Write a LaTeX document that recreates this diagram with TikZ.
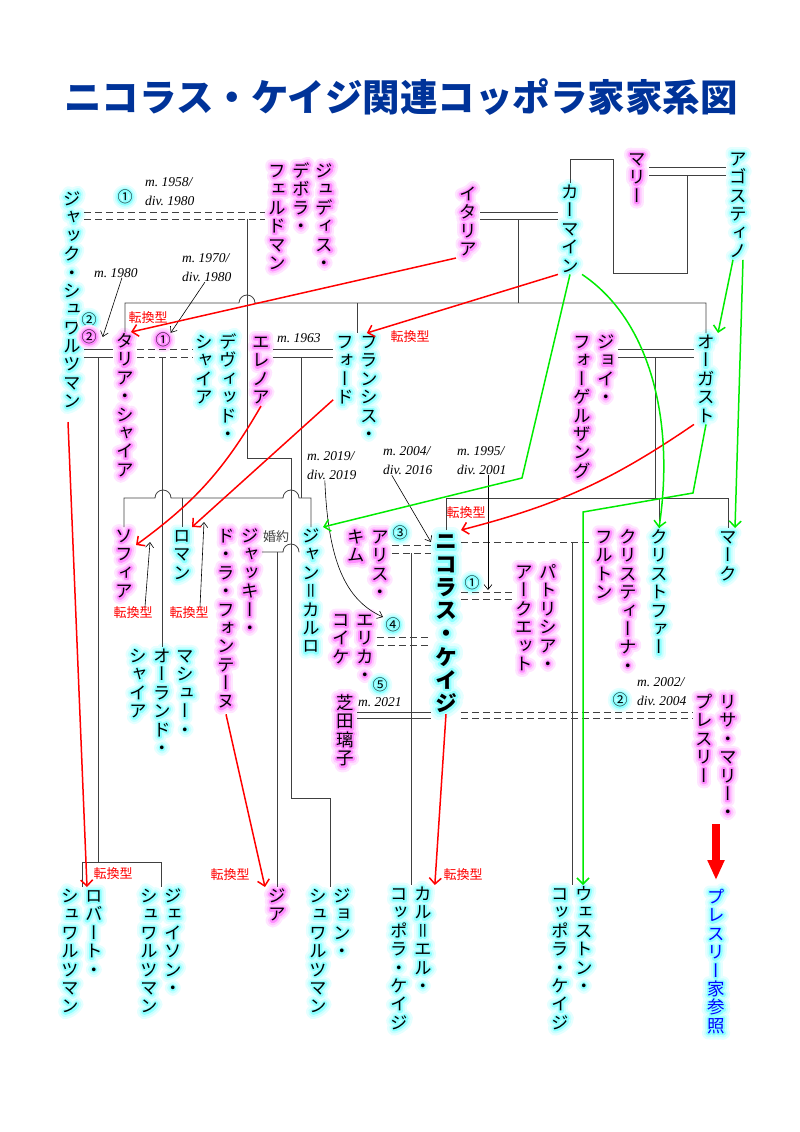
\documentclass[tikz,border=0pt]{standalone}
\usepackage{fontspec}
\usetikzlibrary{arrows.meta,calc}
\setmainfont{Liberation Serif}
\newfontfamily\jp[RawFeature=+vert]{Noto Sans CJK JP}
\newfontfamily\glowin[RawFeature=+vert,FakeBold=22]{Noto Sans CJK JP}
\newfontfamily\glowmid[RawFeature=+vert,FakeBold=45]{Noto Sans CJK JP}
\newfontfamily\glowout[RawFeature=+vert,FakeBold=70]{Noto Sans CJK JP}
\newfontfamily\jph{Noto Sans CJK JP}

\definecolor{maleglow}{RGB}{0,255,255}
\definecolor{femaleglow}{RGB}{255,0,255}
\definecolor{titleblue}{RGB}{0,51,153}
\definecolor{kingray}{RGB}{64,64,64}
\definecolor{namegreen}{RGB}{0,235,0}

% one column of vertical text, one character per line
\def\tloop#1{\ifx\relax#1\else\hbox to 1.35em{\hss\vrule height .88em depth .12em width 0pt#1\hss}\expandafter\tloop\fi}
\newcommand\tcol[1]{\vtop{\baselineskip=1.05em\lineskiplimit=-50pt\tloop#1\relax}}
% soft halo behind a name
\newcommand\glow[2]{\rlap{\color{#1!10}\glowout#2}\rlap{\color{#1!22}\glowmid#2}\rlap{\color{#1!45}\glowin#2}#2}

\tikzset{
  man/.style={inner sep=0pt, anchor=north, line join=round, font=\jp\fontsize{17.5}{18}\selectfont},
  woman/.style={man},
  circled/.style={inner sep=0pt, line join=round, font=\jp\fontsize{15}{15}\selectfont},
  year/.style={inner sep=0pt, anchor=west, align=left, font=\itshape\fontsize{13.5}{19}\selectfont},
  convlbl/.style={inner sep=0pt, text=red, font=\jph\fontsize{13}{13}\selectfont},
  kin/.style={draw=kingray, line width=0.8pt},
  divorced/.style={kin, dash pattern=on 7pt off 4pt},
  conv/.style={draw=red, line width=1.5pt, -{Straight Barb[length=6pt,width=12pt]}},
  namesake/.style={draw=namegreen, line width=1.5pt, -{Straight Barb[length=6pt,width=12pt]}},
  note/.style={draw=black, line width=0.6pt, -{Straight Barb[length=5pt,width=8pt]}},
}

\begin{document}
\begin{tikzpicture}[x=1pt,y=-1pt]
\useasboundingbox (0,0) rectangle (800,1132);

\node[font=\jph\bfseries\fontsize{37.5}{38}\selectfont, text=titleblue] (title) at (401,97) {ニコラス・ケイジ関連コッポラ家家系図};

% first generation
\node[man] (agostino) at (738,150) {\glow{maleglow}{\tcol{アゴスティノ}}};
\node[woman] (marie) at (637,150) {\glow{femaleglow}{\tcol{マリー}}};
\node[man] (carmine) at (570,183) {\glow{maleglow}{\tcol{カーマイン}}};
\node[woman] (italia) at (468,185) {\glow{femaleglow}{\tcol{イタリア}}};
\node[woman] (judith) at (301,162) {\glow{femaleglow}{\tcol{フェルドマン}\tcol{デボラ・}\tcol{ジュディス・}}};
\node[man] (jack) at (72,190) {\glow{maleglow}{\tcol{ジャック・シュワルツマン}}};

% second generation
\node[woman] (talia) at (125,332) {\glow{femaleglow}{\tcol{タリア・シャイア}}};
\node[man] (david) at (216,333) {\glow{maleglow}{\tcol{シャイア}\tcol{デヴィッド・}}};
\node[woman] (eleanor) at (261,333) {\glow{femaleglow}{\tcol{エレノア}}};
\node[man] (francis) at (357,333) {\glow{maleglow}{\tcol{フォード}\tcol{フランシス・}}};
\node[woman] (joy) at (594,333) {\glow{femaleglow}{\tcol{フォーゲルザング}\tcol{ジョイ・}}};
\node[man] (august) at (706,333) {\glow{maleglow}{\tcol{オーガスト}}};

% third generation
\node[woman] (sofia) at (124,527) {\glow{femaleglow}{\tcol{ソフィア}}};
\node[man] (roman) at (182,527) {\glow{maleglow}{\tcol{ロマン}}};
\node[woman] (jacqui) at (238,527) {\glow{femaleglow}{\tcol{ド・ラ・フォンテーヌ}\tcol{ジャッキー・}}};
\node[man] (jancarlo) at (311,527) {\glow{maleglow}{\tcol{ジャン＝カルロ}}};
\node[woman] (alice) at (368,528) {\glow{femaleglow}{\tcol{キム}\tcol{アリス・}}};
\node[man,font=\jp\bfseries\fontsize{22}{22}\selectfont] (nicolas) at (446,530) {\glow{maleglow}{\tcol{ニコラス・ケイジ}}};
\node[woman] (patricia) at (536,563) {\glow{femaleglow}{\tcol{アークエット}\tcol{パトリシア・}}};
\node[woman] (christina) at (616,528) {\glow{femaleglow}{\tcol{フルトン}\tcol{クリスティーナ・}}};
\node[man] (christopher) at (659,528) {\glow{maleglow}{\tcol{クリストファー}}};
\node[man] (mark) at (728,528) {\glow{maleglow}{\tcol{マーク}}};
\node[woman] (erika) at (353,611) {\glow{femaleglow}{\tcol{コイケ}\tcol{エリカ・}}};
\node[man] (matthew) at (162,647) {\glow{maleglow}{\tcol{シャイア}\tcol{オーランド・}\tcol{マシュー・}}};
\node[woman] (riko) at (345,694) {\glow{femaleglow}{\tcol{芝田璃子}}};
\node[woman] (lisa) at (716,693) {\glow{femaleglow}{\tcol{プレスリー}\tcol{リサ・マリー・}}};

% fourth generation
\node[man] (robert) at (82,887) {\glow{maleglow}{\tcol{シュワルツマン}\tcol{ロバート・}}};
\node[man] (jason) at (161,887) {\glow{maleglow}{\tcol{シュワルツマン}\tcol{ジェイソン・}}};
\node[woman] (gia) at (277,887) {\glow{femaleglow}{\tcol{ジア}}};
\node[man] (john) at (330,887) {\glow{maleglow}{\tcol{シュワルツマン}\tcol{ジョン・}}};
\node[man] (kalel) at (411,885) {\glow{maleglow}{\tcol{コッポラ・ケイジ}\tcol{カル＝エル・}}};
\node[man] (weston) at (572,885) {\glow{maleglow}{\tcol{コッポラ・ケイジ}\tcol{ウェストン・}}};
\node[man,text=blue] (presleyref) at (716,888) {\glow{maleglow}{\tcol{プレスリー家参照}}};

% marriage numbers
\node[circled] (oneJ) at (125,197) {\glow{maleglow}{①}};
\node[circled] (twoJ) at (89,320) {\glow{maleglow}{②}};
\node[circled] (twoT) at (89,337) {\glow{femaleglow}{②}};
\node[circled] (oneT) at (163,340) {\glow{femaleglow}{①}};
\node[circled] (threeN) at (400,533) {\glow{maleglow}{③}};
\node[circled] (oneN) at (472,583) {\glow{maleglow}{①}};
\node[circled] (fourN) at (393,625) {\glow{maleglow}{④}};
\node[circled] (fiveN) at (380,685) {\glow{maleglow}{⑤}};
\node[circled] (twoN) at (620,700) {\glow{maleglow}{②}};

% years
\node[year] (y1958) at (145,192) {m.~1958/\\div.~1980};
\node[year] (y1980) at (94,273) {m.~1980};
\node[year] (y1970) at (182,268) {m.~1970/\\div.~1980};
\node[year] (y1963) at (277,338) {m.~1963};
\node[year] (y2019) at (307,466) {m.~2019/\\div.~2019};
\node[year] (y2004) at (383,461) {m.~2004/\\div.~2016};
\node[year] (y1995) at (457,461) {m.~1995/\\div.~2001};
\node[year] (y2021) at (358,702) {m.~2021};
\node[year] (y2002) at (637,692) {m.~2002/\\div.~2004};

% conversion labels
\node[convlbl] (c1) at (148,318) {転換型};
\node[convlbl] (c2) at (410,337) {転換型};
\node[convlbl] (c3) at (466,513) {転換型};
\node[convlbl] (c4) at (133,613) {転換型};
\node[convlbl] (c5) at (189,613) {転換型};
\node[convlbl] (c6) at (113,874) {転換型};
\node[convlbl] (c7) at (230,875) {転換型};
\node[convlbl] (c8) at (463,875) {転換型};
\node[inner sep=0pt, text=black!75, font=\jph\fontsize{13}{13}\selectfont] (engaged) at (276,537) {婚約};

% Agostino + Marie
\draw[kin] (marie.east |- 0,167) -- (agostino.west |- 0,167);
\draw[kin] (marie.east |- 0,175) -- (agostino.west |- 0,175);
\draw[kin] (687,175) |- (613,273) |- (carmine.north |- 0,159) -- (carmine.north);

% Carmine + Italia
\draw[kin] (italia.east |- 0,212) -- (carmine.west |- 0,212);
\draw[kin] (italia.east |- 0,219) -- (carmine.west |- 0,219);
\draw[kin] (518,219) -- (518,303);
\draw[kin] (talia.north) |- (239,303) arc[start angle=180,end angle=0,radius=8pt] -- (august.north |- 0,303) -- (august.north);
\draw[kin] (francis.north |- 0,303) -- (francis.north);

% Jack + Judith
\draw[divorced] (jack.east |- 0,212) -- (judith.west |- 0,212);
\draw[divorced] (jack.east |- 0,219) -- (judith.west |- 0,219);
\draw[kin] (247,219) -- (247,458) -| (291,798) -| (john.north);

% Jack + Talia, Talia + David
\draw[kin] (jack.east |- 0,349) -- (talia.west |- 0,349);
\draw[kin] (jack.east |- 0,357) -- (talia.west |- 0,357);
\draw[divorced] (talia.east |- 0,349) -- (david.west |- 0,349);
\draw[divorced] (talia.east |- 0,357) -- (david.west |- 0,357);
\draw[kin] (98,357) -- (98,862);
\draw[kin] (robert.north) |- (jason.north |- 0,862) -- (jason.north);
\draw[kin] (matthew.north |- 0,357) -- (matthew.north);

% Eleanor + Francis
\draw[kin] (eleanor.east |- 0,349) -- (francis.west |- 0,349);
\draw[kin] (eleanor.east |- 0,357) -- (francis.west |- 0,357);
\draw[kin] (301,357) -- (301,498);
\draw[kin] (sofia.north) |- (155,498) arc[start angle=180,end angle=0,radius=8pt] -- (283,498) arc[start angle=180,end angle=0,radius=8pt] -| (jancarlo.north);
\draw[kin] (roman.north |- 0,498) -- (roman.north);

% Jacqui + Jan-Carlo
\draw[kin] (jacqui.east |- 0,552) -- (283,552) arc[start angle=180,end angle=0,radius=8pt] -- (jancarlo.west |- 0,552);
\draw[kin] (gia.north |- 0,552) -- (gia.north);

% Joy + August
\draw[kin] (joy.east |- 0,349) -- (august.west |- 0,349);
\draw[kin] (joy.east |- 0,357) -- (august.west |- 0,357);
\draw[kin] (655,357) -- (655,498);
\draw[kin] (nicolas.north) |- (mark.north |- 0,498) -- (mark.north);
\draw[kin] (christopher.north |- 0,498) -- (christopher.north);

% Nicolas
\draw[divorced] (alice.east |- 0,545) -- (nicolas.west |- 0,545);
\draw[divorced] (alice.east |- 0,553) -- (nicolas.west |- 0,553);
\draw[kin] (kalel.north |- 0,553) -- (kalel.north);
\draw[divorced] (nicolas.east |- 0,542) -- (christina.west |- 0,542);
\draw[kin] (weston.north |- 0,542) -- (weston.north);
\draw[divorced] (nicolas.east |- 0,592) -- (patricia.west |- 0,592);
\draw[divorced] (nicolas.east |- 0,599) -- (patricia.west |- 0,599);
\draw[divorced] (erika.east |- 0,637) -- (nicolas.west |- 0,637);
\draw[divorced] (erika.east |- 0,645) -- (nicolas.west |- 0,645);
\draw[kin] (riko.east |- 0,712) -- (nicolas.west |- 0,712);
\draw[kin] (riko.east |- 0,718) -- (nicolas.west |- 0,718);
\draw[divorced] (nicolas.east |- 0,712) -- (lisa.west |- 0,712);
\draw[divorced] (nicolas.east |- 0,718) -- (lisa.west |- 0,718);

% year pointers
\coordinate (patriciatie) at (488,590);
\coordinate (erikatie) at (383,617);
\draw[note] ([xshift=6pt]y1980.south) -- ([xshift=6pt]twoT.east);
\draw[note] ([xshift=-2pt]y1970.south) -- (oneT.north east);
\draw[note] ([xshift=-16pt]y2004.south) -- ([yshift=-12pt]nicolas.north west);
\draw[note] (patriciatie |- y1995.south) -- (patriciatie);
\draw[note] ([xshift=-7pt]y2019.south) .. controls (328,560) and (345,600) .. (erikatie);
\draw[note] ([xshift=12pt]c4.north) -- ([xshift=14pt,yshift=-15pt]sofia.north east);
\draw[note] ([xshift=11pt]c5.north) -- ([xshift=10pt,yshift=5pt]roman.north east);

% conversions
\draw[conv] (italia.south west) -- ([xshift=-6pt]talia.north east);
\draw[conv] (carmine.south west) -- ([xshift=-14pt]francis.north east);
\draw[conv] (eleanor.south) to[bend left=12] ([yshift=-18pt]sofia.north east);
\draw[conv] ($(francis.south west)+(0,-43)$) -- ([xshift=10pt]roman.north);
\draw[conv] (august.south west) to[bend left=10] (nicolas.north east);
\draw[conv] ($(jack.south)+(-4,12)$) -- ([xshift=5pt]robert.north);
\draw[conv] ($(jacqui.south)+(-12,4)$) -- (gia.north west);
\draw[conv] (nicolas.south) -- (kalel.north east);

% namesakes
\draw[namesake] (carmine.south) -- (522,478) -- (jancarlo.north east);
\draw[namesake] (carmine.south east) .. controls (650,320) and (675,420) .. (christopher.north);
\draw[namesake] ([xshift=-5pt]agostino.south) -- ([xshift=12pt]august.north);
\draw[namesake] ([xshift=5pt]agostino.south) -- ([xshift=7pt]mark.north);
\draw[namesake] (august.south) -- (693,493) -- (583,512) -- ([xshift=11pt]weston.north);

\draw[red, line width=8pt, -{Triangle[length=20pt,width=16pt]}] ([yshift=-3pt]lisa.south) -- ([yshift=8pt]presleyref.north);
\end{tikzpicture}
\end{document}
